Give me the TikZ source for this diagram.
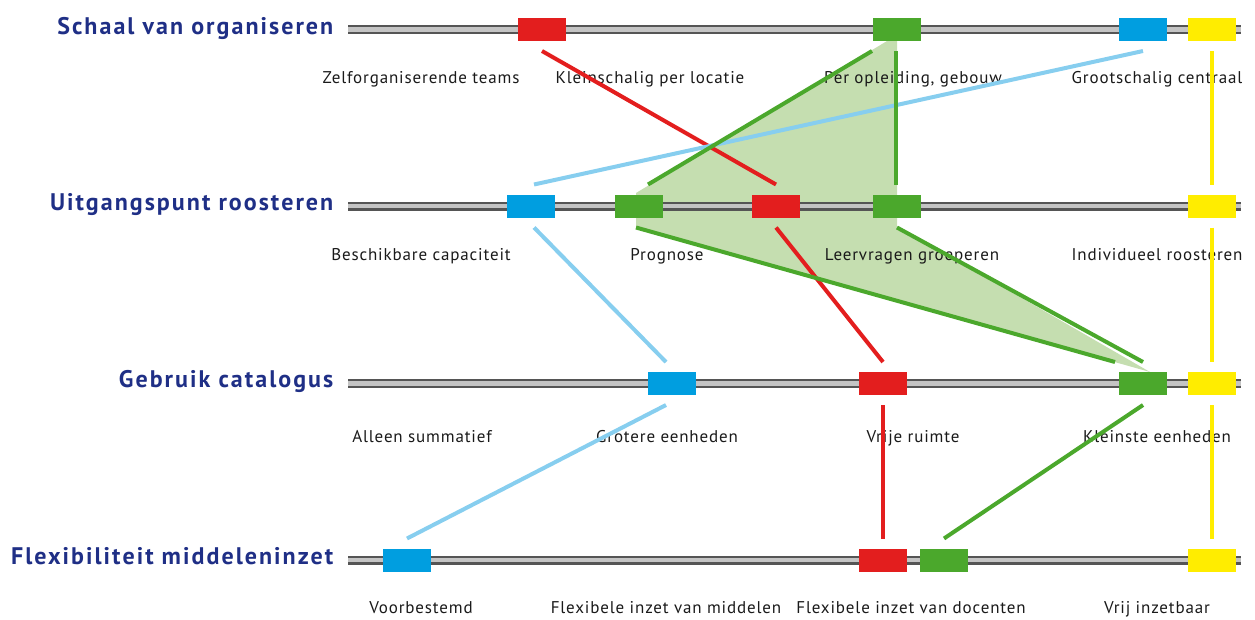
\documentclass[tikz,border=0pt]{standalone}
\usepackage{fontspec}
\setmainfont{PT Sans}
\newfontfamily\labfont[LetterSpace=5]{PT Sans}
\newfontfamily\headfont[LetterSpace=8.5]{PT Sans}
\usetikzlibrary{calc}

\definecolor{navy}{HTML}{1F2F86}
\definecolor{bred}{HTML}{E31E1E}
\definecolor{bgreen}{HTML}{4BA82C}
\definecolor{bblue}{HTML}{009EE0}
\definecolor{lblue}{HTML}{87CEEF}
\definecolor{byellow}{HTML}{FFED00}
\definecolor{fillgreen}{HTML}{C5DEB0}
\definecolor{raildark}{HTML}{555555}
\definecolor{raillight}{HTML}{C4C4C4}
\definecolor{labtext}{HTML}{1A1A1A}

\begin{document}
\begin{tikzpicture}[x=1pt, y=-1pt,
  bar/.style={rectangle, minimum width=48pt, minimum height=23pt, inner sep=0pt,
              outer xsep=0pt, outer ysep=10pt, fill=#1},
  link/.style={line width=4pt, draw=#1},
  head/.style={anchor=base east, inner sep=0pt, text=navy,
               font=\headfont\bfseries\fontsize{24}{24}\selectfont},
  lab/.style={anchor=base, inner sep=0pt, text=labtext,
              font=\labfont\fontsize{17}{17}\selectfont},
  railstyle/.style={line width=9pt, draw=raildark},
  railcore/.style={line width=4.5pt, draw=raillight}]
\useasboundingbox (0,0) rectangle (1255,619);

% shaded area spanned by the green route
\fill[fillgreen] (887,41) -- (897,41) -- (897,226) -- (1150,372)
  -- (636,227) -- (636,193) -- cycle;

% rails
\foreach \y in {29.7,206,383.5,560} {
  \draw[railstyle] (348,\y) -- (1241,\y);
  \draw[railcore] (348,\y) -- (1241,\y);
}

% row headings
\node[head] (h1) at (333.5,34) {Schaal van organiseren};
\node[head] (h2) at (333.5,210) {Uitgangspunt roosteren};
\node[head] (h3) at (333.5,387.5) {Gebruik catalogus};
\node[head] (h4) at (333.5,564) {Flexibiliteit middeleninzet};

% option labels
\node[lab] (l11) at (421,83) {Zelforganiserende teams};
\node[lab] (l12) at (650,83) {Kleinschalig per locatie};
\node[lab] (l13) at (913,83) {Per opleiding, gebouw};
\node[lab] (l14) at (1157,83) {Grootschalig centraal};

\node[lab] (l21) at (421,260) {Beschikbare capaciteit};
\node[lab] (l22) at (667,260) {Prognose};
\node[lab] (l23) at (912,260) {Leervragen groeperen};
\node[lab] (l24) at (1157,260) {Individueel roosteren};

\node[lab] (l31) at (422,442) {Alleen summatief};
\node[lab] (l32) at (667,442) {Grotere eenheden};
\node[lab] (l33) at (913,442) {Vrije ruimte};
\node[lab] (l34) at (1157,442) {Kleinste eenheden};

\node[lab] (l41) at (421,613) {Voorbestemd};
\node[lab] (l42) at (666,613) {Flexibele inzet van middelen};
\node[lab] (l43) at (911,613) {Flexibele inzet van docenten};
\node[lab] (l44) at (1157,613) {Vrij inzetbaar};

% markers on the rails
\node[bar=bred]    (a1) at (542,29.5) {};
\node[bar=bgreen]  (a2) at (897,29.5) {};
\node[bar=bblue]   (a3) at (1143,29.5) {};
\node[bar=byellow] (a4) at (1212,29.5) {};

\node[bar=bblue]   (b1) at (531,206) {};
\node[bar=bgreen]  (b2) at (639,206) {};
\node[bar=bred]    (b3) at (776,206) {};
\node[bar=bgreen]  (b4) at (897,206) {};
\node[bar=byellow] (b5) at (1212,206) {};

\node[bar=bblue]   (c1) at (672,383.5) {};
\node[bar=bred]    (c2) at (883,383.5) {};
\node[bar=bgreen]  (c3) at (1143,383.5) {};
\node[bar=byellow] (c4) at (1212,383.5) {};

\node[bar=bblue]   (d1) at (407,560) {};
\node[bar=bred]    (d2) at (883,560) {};
\node[bar=bgreen]  (d3) at (944,560) {};
\node[bar=byellow] (d4) at (1212,560) {};

% red route
\draw[link=bred] (a1.south) -- (b3.north);
\draw[link=bred] (b3.south) -- (c2.north);
\draw[link=bred] (c2.south) -- (d2.north);

% blue route
\draw[link=lblue] (a3.south) -- ([xshift=3pt]b1.north);
\draw[link=lblue] ([xshift=3pt]b1.south) -- ([xshift=-6pt]c1.north);
\draw[link=lblue] ([xshift=-6pt]c1.south) -- (d1.north);

% yellow route
\draw[link=byellow] (a4.south) -- (b5.north);
\draw[link=byellow] (b5.south) -- (c4.north);
\draw[link=byellow] (c4.south) -- (d4.north);

% green route
\draw[link=bgreen] ([xshift=-1pt]a2.south west) -- ([xshift=9pt]b2.north);
\draw[link=bgreen] ([xshift=-1pt]a2.south) -- ([xshift=-1pt]b4.north);
\draw[link=bgreen] ([xshift=-3pt]b2.south) -- ([xshift=-28pt]c3.north);
\draw[link=bgreen] (b4.south) -- (c3.north);
\draw[link=bgreen] (c3.south) -- (d3.north);
\end{tikzpicture}
\end{document}
